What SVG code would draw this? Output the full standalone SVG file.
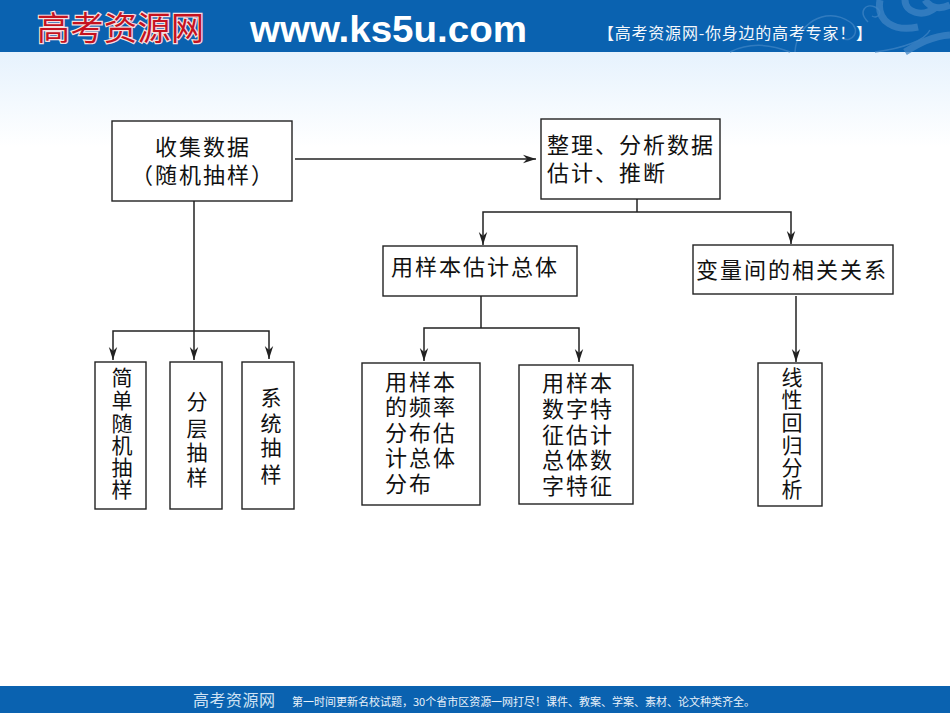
<svg xmlns="http://www.w3.org/2000/svg" width="950" height="713" viewBox="0 0 950 713">
<style>
.b{fill:#fff;stroke:#222;stroke-width:1.4}
.t{font-family:"Noto Sans CJK SC","Noto Sans CJK JP",sans-serif;font-size:21px;fill:#111;text-anchor:middle}
.m{font-family:"Noto Sans CJK SC","Noto Sans CJK JP",sans-serif;font-size:22px;fill:#111;text-anchor:middle;letter-spacing:2px}
.l{font-family:"Noto Sans CJK SC","Noto Sans CJK JP",sans-serif;font-size:22px;fill:#111;letter-spacing:2px}
.c{fill:none;stroke:#222;stroke-width:1.5}
.a{marker-end:url(#ar)}
.s{fill:none;stroke:#3f84c4;stroke-width:1.5;opacity:.75}
.w{fill:none;stroke:#3f84c4;stroke-width:7;opacity:.75}
</style>
<defs>
<linearGradient id="bg" x1="0" y1="0" x2="0" y2="1"><stop offset="0" stop-color="#e6f2fd"/><stop offset="1" stop-color="#fff"/></linearGradient>
<marker id="ar" markerUnits="userSpaceOnUse" markerWidth="14" markerHeight="10" refX="13" refY="5" orient="auto"><path d="M0 .8L13 5L0 9.2L4 5Z" fill="#222"/></marker>
</defs>
<rect width="950" height="713" fill="#fff"/>
<rect y="52" width="950" height="95" fill="url(#bg)"/>
<g id="header">
<rect width="950" height="52" fill="#0a62b0"/>
<path class="s" d="M730 52C750 42 770 44 790 52M795 52C796 25 825 5 850 22C862 30 852 44 842 38M868 22C858 12 865 3 875 7C884 11 878 20 872 16M875 52C905 48 925 40 930 30"/>
<path class="w" d="M880 0C876 22 895 32 918 27M905 0C905 12 922 18 935 8M950 35C932 36 918 44 905 52M925 0C930 8 940 10 950 5"/>
<text x="37" y="40" font-family="Noto Sans CJK SC,sans-serif" font-size="33" fill="#c5121f" stroke="#f6dfe0" stroke-width="2.4" paint-order="stroke" textLength="167">高考资源网</text>
<text x="250" y="42" font-family="Liberation Sans,sans-serif" font-size="36" font-weight="700" fill="#fff" textLength="277" lengthAdjust="spacingAndGlyphs">www.ks5u.com</text>
<text x="598" y="39" font-family="Noto Sans CJK SC,sans-serif" font-size="16" fill="#f4f8fc" textLength="274">【高考资源网-你身边的高考专家！】</text>
</g>
<g id="footer">
<rect y="686" width="950" height="27" fill="#0a62b0"/>
<text x="193" y="706" font-family="Noto Sans CJK SC,sans-serif" font-size="16" fill="#cfe2f4" textLength="82">高考资源网</text>
<text x="292" y="706" font-family="Noto Sans CJK SC,sans-serif" font-size="11" fill="#e8f1fa" textLength="463">第一时间更新名校试题，30个省市区资源一网打尽！课件、教案、学案、素材、论文种类齐全。</text>
</g>
<g id="connectors">
<path class="c a" d="M295 159H536"/>
<path class="c a" d="M194 201V360"/>
<path class="c a" d="M194 331H113V360"/>
<path class="c a" d="M194 331H269V359"/>
<path class="c" d="M637 199V212"/>
<path class="c a" d="M637 212H483V245"/>
<path class="c a" d="M637 212H791V244"/>
<path class="c" d="M481 296V328"/>
<path class="c a" d="M481 328H424V361"/>
<path class="c a" d="M481 328H579V362"/>
<path class="c a" d="M796 296V362"/>
</g>
<g id="n1"><rect class="b" x="112" y="121" width="180" height="80"/><text class="m" x="203" y="155">收集数据</text><text class="m" x="203" y="183">（随机抽样）</text></g>
<g id="n2"><rect class="b" x="541" y="119" width="179" height="80"/><text class="l" x="547" y="153">整理、分析数据</text><text class="l" x="547" y="181">估计、推断</text></g>
<g id="n3"><rect class="b" x="383" y="246" width="194" height="50"/><text class="l" x="391" y="275">用样本估计总体</text></g>
<g id="n4"><rect class="b" x="693" y="245" width="200" height="49"/><text class="l" x="696" y="278">变量间的相关关系</text></g>
<g id="n5"><rect class="b" x="95" y="362" width="51" height="147"/><text class="t"><tspan x="122" y="385">简</tspan><tspan x="122" y="408">单</tspan><tspan x="122" y="431">随</tspan><tspan x="122" y="453">机</tspan><tspan x="122" y="475">抽</tspan><tspan x="122" y="497">样</tspan></text></g>
<g id="n6"><rect class="b" x="170" y="362" width="52" height="147"/><text class="t"><tspan x="197" y="409">分</tspan><tspan x="197" y="436">层</tspan><tspan x="197" y="460">抽</tspan><tspan x="197" y="485">样</tspan></text></g>
<g id="n7"><rect class="b" x="242" y="362" width="52" height="147"/><text class="t"><tspan x="271" y="405">系</tspan><tspan x="271" y="431">统</tspan><tspan x="271" y="455">抽</tspan><tspan x="271" y="482">样</tspan></text></g>
<g id="n8"><rect class="b" x="362" y="363" width="118" height="142"/><text class="l"><tspan x="385" y="390">用样本</tspan><tspan x="385" y="415">的频率</tspan><tspan x="385" y="441">分布估</tspan><tspan x="385" y="466">计总体</tspan><tspan x="385" y="492">分布</tspan></text></g>
<g id="n9"><rect class="b" x="519" y="365" width="114" height="139"/><text class="l"><tspan x="542" y="391">用样本</tspan><tspan x="542" y="417">数字特</tspan><tspan x="542" y="443">征估计</tspan><tspan x="542" y="468">总体数</tspan><tspan x="542" y="494">字特征</tspan></text></g>
<g id="n10"><rect class="b" x="758" y="363" width="64" height="143"/><text class="t"><tspan x="792" y="385">线</tspan><tspan x="792" y="407">性</tspan><tspan x="792" y="430">回</tspan><tspan x="792" y="453">归</tspan><tspan x="792" y="475">分</tspan><tspan x="792" y="497">析</tspan></text></g>
</svg>
